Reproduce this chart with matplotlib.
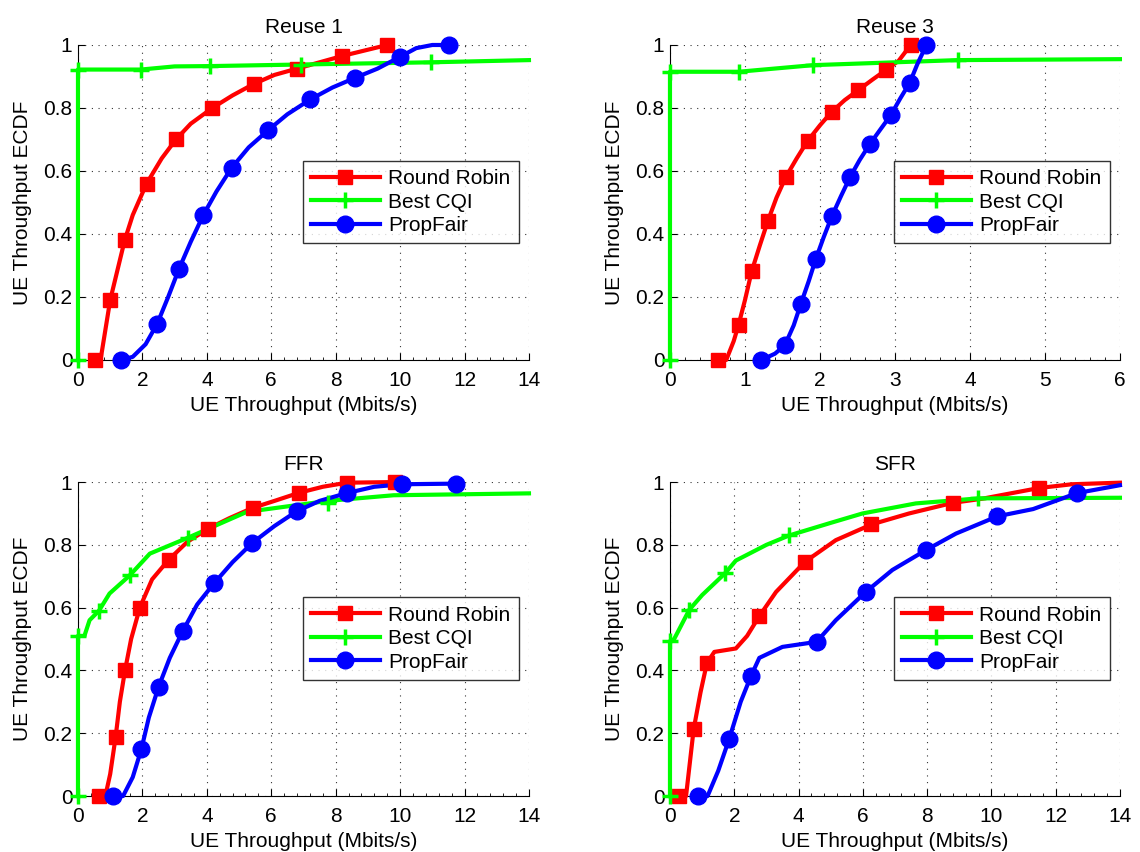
import matplotlib
matplotlib.use("Agg")
import matplotlib.pyplot as plt
from matplotlib.ticker import MultipleLocator, AutoMinorLocator

plt.rcParams['font.family'] = ['Liberation Sans', 'DejaVu Sans']

series_names = ["Round Robin", "Best CQI", "PropFair"]
titles = ["Reuse 1", "Reuse 3", "FFR", "SFR"]
x_label = "UE Throughput (Mbits/s)"
y_label = "UE Throughput ECDF"

# ---------------- Reuse 1 ----------------
r1_rr_x = [0.52, 0.7, 1.0, 1.45, 1.7, 2.13, 2.6, 3.04, 3.5, 4.17, 4.8, 5.45, 6.1, 6.8, 7.5, 8.2, 9.0, 9.6]
r1_rr_y = [0.0, 0.0, 0.19, 0.38, 0.46, 0.56, 0.64, 0.70, 0.75, 0.80, 0.84, 0.876, 0.905, 0.925, 0.945, 0.965, 0.985, 1.0]
r1_rr_mx = [0.52, 1.0, 1.45, 2.13, 3.04, 4.17, 5.45, 6.8, 8.2, 9.6]
r1_rr_my = [0.0, 0.19, 0.38, 0.56, 0.70, 0.80, 0.876, 0.925, 0.965, 1.0]

r1_cqi_x = [0.0, 0.0, 1.95, 3.0, 4.1, 6.92, 10.95, 14.0]
r1_cqi_y = [0.0, 0.922, 0.922, 0.932, 0.933, 0.938, 0.945, 0.952]
r1_cqi_mx = [0.0, 0.0, 1.95, 4.1, 6.92, 10.95]
r1_cqi_my = [0.0, 0.922, 0.922, 0.933, 0.938, 0.945]

r1_pf_x = [1.35, 1.7, 2.1, 2.46, 2.8, 3.14, 3.5, 3.89, 4.3, 4.77, 5.3, 5.91, 6.5, 7.21, 7.9, 8.61, 9.3, 10.01, 10.5, 11.0, 11.51]
r1_pf_y = [0.0, 0.01, 0.05, 0.115, 0.2, 0.29, 0.375, 0.46, 0.535, 0.61, 0.675, 0.73, 0.78, 0.827, 0.865, 0.896, 0.925, 0.963, 0.99, 1.0, 1.0]
r1_pf_mx = [1.35, 2.46, 3.14, 3.89, 4.77, 5.91, 7.21, 8.61, 10.01, 11.51]
r1_pf_my = [0.0, 0.115, 0.29, 0.46, 0.61, 0.73, 0.827, 0.896, 0.963, 1.0]

# ---------------- Reuse 3 ----------------
r3_rr_x = [0.644, 0.75, 0.85, 0.915, 1.0, 1.09, 1.2, 1.305, 1.42, 1.545, 1.69, 1.834, 2.0, 2.158, 2.33, 2.513, 2.7, 2.877, 3.05, 3.21]
r3_rr_y = [0.0, 0.0, 0.06, 0.112, 0.19, 0.282, 0.365, 0.441, 0.515, 0.581, 0.64, 0.695, 0.745, 0.788, 0.825, 0.857, 0.89, 0.92, 0.95, 1.0]
r3_rr_mx = [0.644, 0.915, 1.09, 1.305, 1.545, 1.834, 2.158, 2.513, 2.877, 3.21]
r3_rr_my = [0.0, 0.112, 0.282, 0.441, 0.581, 0.695, 0.788, 0.857, 0.92, 1.0]

r3_cqi_x = [0.0, 0.0, 0.915, 1.91, 3.84, 6.0]
r3_cqi_y = [0.0, 0.915, 0.915, 0.936, 0.952, 0.955]
r3_cqi_mx = [0.0, 0.0, 0.915, 1.91, 3.84]
r3_cqi_my = [0.0, 0.915, 0.915, 0.936, 0.952]

r3_pf_x = [1.22, 1.4, 1.53, 1.65, 1.745, 1.85, 1.945, 2.05, 2.158, 2.28, 2.402, 2.53, 2.664, 2.8, 2.944, 3.07, 3.197, 3.3, 3.42]
r3_pf_y = [0.0, 0.02, 0.046, 0.11, 0.178, 0.25, 0.321, 0.39, 0.456, 0.52, 0.581, 0.635, 0.685, 0.73, 0.777, 0.83, 0.88, 0.94, 1.0]
r3_pf_mx = [1.22, 1.53, 1.745, 1.945, 2.158, 2.402, 2.664, 2.944, 3.197, 3.42]
r3_pf_my = [0.0, 0.046, 0.178, 0.321, 0.456, 0.581, 0.685, 0.777, 0.88, 1.0]

# ---------------- FFR ----------------
ffr_rr_x = [0.65, 0.85, 1.0, 1.17, 1.3, 1.46, 1.65, 1.92, 2.3, 2.82, 3.4, 4.05, 4.7, 5.43, 6.1, 6.87, 7.6, 8.35, 9.85, 10.0]
ffr_rr_y = [0.0, 0.0, 0.07, 0.189, 0.3, 0.40, 0.5, 0.60, 0.69, 0.753, 0.81, 0.852, 0.885, 0.918, 0.94, 0.966, 0.985, 0.998, 1.0, 1.0]
ffr_rr_mx = [0.65, 1.17, 1.46, 1.92, 2.82, 4.05, 5.43, 6.87, 8.35, 9.85]
ffr_rr_my = [0.0, 0.189, 0.40, 0.60, 0.753, 0.852, 0.918, 0.966, 0.998, 1.0]

ffr_cqi_x = [0.0, 0.0, 0.2, 0.36, 0.65, 0.98, 1.61, 2.23, 3.42, 5.24, 7.76, 9.8, 14.0]
ffr_cqi_y = [0.0, 0.51, 0.51, 0.56, 0.59, 0.645, 0.703, 0.772, 0.823, 0.905, 0.94, 0.958, 0.964]
ffr_cqi_mx = [0.0, 0.0, 0.65, 1.61, 3.42, 7.76]
ffr_cqi_my = [0.0, 0.51, 0.59, 0.703, 0.823, 0.934]

ffr_pf_x = [1.09, 1.4, 1.7, 1.97, 2.2, 2.5, 2.85, 3.25, 3.7, 4.22, 4.8, 5.41, 6.1, 6.79, 7.5, 8.35, 9.2, 10.06, 11.74]
ffr_pf_y = [0.0, 0.0, 0.06, 0.15, 0.25, 0.347, 0.44, 0.525, 0.61, 0.677, 0.745, 0.806, 0.86, 0.907, 0.94, 0.965, 0.985, 0.993, 0.995]
ffr_pf_mx = [1.09, 1.97, 2.5, 3.25, 4.22, 5.41, 6.79, 8.35, 10.06, 11.74]
ffr_pf_my = [0.0, 0.15, 0.347, 0.525, 0.677, 0.806, 0.907, 0.965, 0.993, 0.995]

# ---------------- SFR ----------------
sfr_rr_x = [0.29, 0.5, 0.736, 0.95, 1.15, 1.38, 2.05, 2.4, 2.78, 3.3, 4.2, 5.16, 6.27, 7.44, 8.81, 9.72, 11.48, 12.5, 14.0]
sfr_rr_y = [0.0, 0.0, 0.212, 0.33, 0.424, 0.459, 0.47, 0.51, 0.573, 0.65, 0.746, 0.815, 0.865, 0.9, 0.934, 0.947, 0.981, 0.993, 0.998]
sfr_rr_mx = [0.29, 0.736, 1.15, 2.78, 4.2, 6.27, 8.81, 11.48]
sfr_rr_my = [0.0, 0.212, 0.424, 0.573, 0.746, 0.865, 0.934, 0.981]

sfr_cqi_x = [0.0, 0.0, 0.13, 0.6, 1.0, 1.72, 2.05, 3.0, 3.71, 5.0, 5.99, 7.65, 9.59, 14.0]
sfr_cqi_y = [0.0, 0.493, 0.5, 0.593, 0.64, 0.71, 0.75, 0.8, 0.83, 0.87, 0.9, 0.932, 0.948, 0.95]
sfr_cqi_mx = [0.0, 0.0, 0.6, 1.72, 3.71, 9.59]
sfr_cqi_my = [0.0, 0.493, 0.593, 0.71, 0.83, 0.948]

sfr_pf_x = [0.86, 1.17, 1.5, 1.84, 2.2, 2.52, 2.78, 3.5, 4.56, 5.16, 6.09, 6.92, 7.96, 8.9, 10.19, 11.3, 12.67, 14.0]
sfr_pf_y = [0.0, 0.0, 0.08, 0.181, 0.3, 0.382, 0.44, 0.475, 0.491, 0.56, 0.65, 0.72, 0.783, 0.836, 0.891, 0.914, 0.965, 0.99]
sfr_pf_mx = [0.86, 1.84, 2.52, 4.56, 6.09, 7.96, 10.19, 12.67]
sfr_pf_my = [0.0, 0.181, 0.382, 0.491, 0.65, 0.783, 0.891, 0.965]

x_limits = [14, 6, 14, 14]
x_steps = [2, 1, 2, 2]

panels = [
    [(r1_rr_x, r1_rr_y, r1_rr_mx, r1_rr_my), (r1_cqi_x, r1_cqi_y, r1_cqi_mx, r1_cqi_my), (r1_pf_x, r1_pf_y, r1_pf_mx, r1_pf_my)],
    [(r3_rr_x, r3_rr_y, r3_rr_mx, r3_rr_my), (r3_cqi_x, r3_cqi_y, r3_cqi_mx, r3_cqi_my), (r3_pf_x, r3_pf_y, r3_pf_mx, r3_pf_my)],
    [(ffr_rr_x, ffr_rr_y, ffr_rr_mx, ffr_rr_my), (ffr_cqi_x, ffr_cqi_y, ffr_cqi_mx, ffr_cqi_my), (ffr_pf_x, ffr_pf_y, ffr_pf_mx, ffr_pf_my)],
    [(sfr_rr_x, sfr_rr_y, sfr_rr_mx, sfr_rr_my), (sfr_cqi_x, sfr_cqi_y, sfr_cqi_mx, sfr_cqi_my), (sfr_pf_x, sfr_pf_y, sfr_pf_mx, sfr_pf_my)],
]

colors = ["#ff0000", "#00ff00", "#0000ff"]
markers = ["s", "+", "o"]
msizes = [10, 12, 12]
mews = [1, 2.5, 1]
FS = 15

fig = plt.figure(figsize=(11.4, 8.52), dpi=100)
positions = [
    [0.0684, 0.5775, 0.3956, 0.3697],
    [0.5877, 0.5775, 0.3947, 0.3697],
    [0.0684, 0.0657, 0.3956, 0.3685],
    [0.5877, 0.0657, 0.3947, 0.3685],
]

for i, pos in enumerate(positions):
    ax = fig.add_axes(pos)
    handles = []
    for j, (cx, cy, mx, my) in enumerate(panels[i]):
        ax.plot(cx, cy, color=colors[j], lw=3, solid_joinstyle='round', clip_on=False, zorder=3)
        ax.plot(mx, my, linestyle='none', marker=markers[j], color=colors[j],
                markersize=msizes[j], markeredgewidth=mews[j], clip_on=False, zorder=4)
        h, = ax.plot([], [], color=colors[j], lw=3, marker=markers[j],
                     markersize=msizes[j], markeredgewidth=mews[j], label=series_names[j])
        handles.append(h)
    ax.set_xlim(0, x_limits[i])
    ax.set_ylim(0, 1)
    ax.xaxis.set_major_locator(MultipleLocator(x_steps[i]))
    ax.xaxis.set_minor_locator(AutoMinorLocator(5))
    ax.set_yticks([0, 0.2, 0.4, 0.6, 0.8, 1.0])
    ax.set_yticklabels(["0", "0.2", "0.4", "0.6", "0.8", "1"])
    ax.set_xticklabels([f"{int(v)}" for v in ax.get_xticks()])
    ax.tick_params(direction='in', length=5, width=0.8, labelsize=FS)
    ax.tick_params(axis='x', pad=8)
    ax.tick_params(axis='y', pad=4)
    ax.tick_params(which='minor', direction='in', length=2.5, width=0.6)
    ax.spines['top'].set_visible(False)
    ax.spines['right'].set_visible(False)
    ax.grid(True, linestyle=(0, (1, 5)), color='black', linewidth=0.8, alpha=0.8)
    ax.set_axisbelow(True)
    ax.set_title(titles[i], fontsize=FS, pad=8.5)
    ax.set_xlabel(x_label, fontsize=FS, labelpad=4.5)
    ax.set_ylabel(y_label, fontsize=FS, labelpad=8)
    leg = ax.legend(handles=handles, loc='upper right', bbox_to_anchor=(0.977, 0.633),
                    fontsize=FS, frameon=True, fancybox=False, edgecolor='black',
                    handlelength=3.3, borderpad=0.4, labelspacing=0.22, handletextpad=0.4,
                    borderaxespad=0.0)
    leg.get_frame().set_linewidth(1.0)

fig.savefig("out.png", dpi=100)
